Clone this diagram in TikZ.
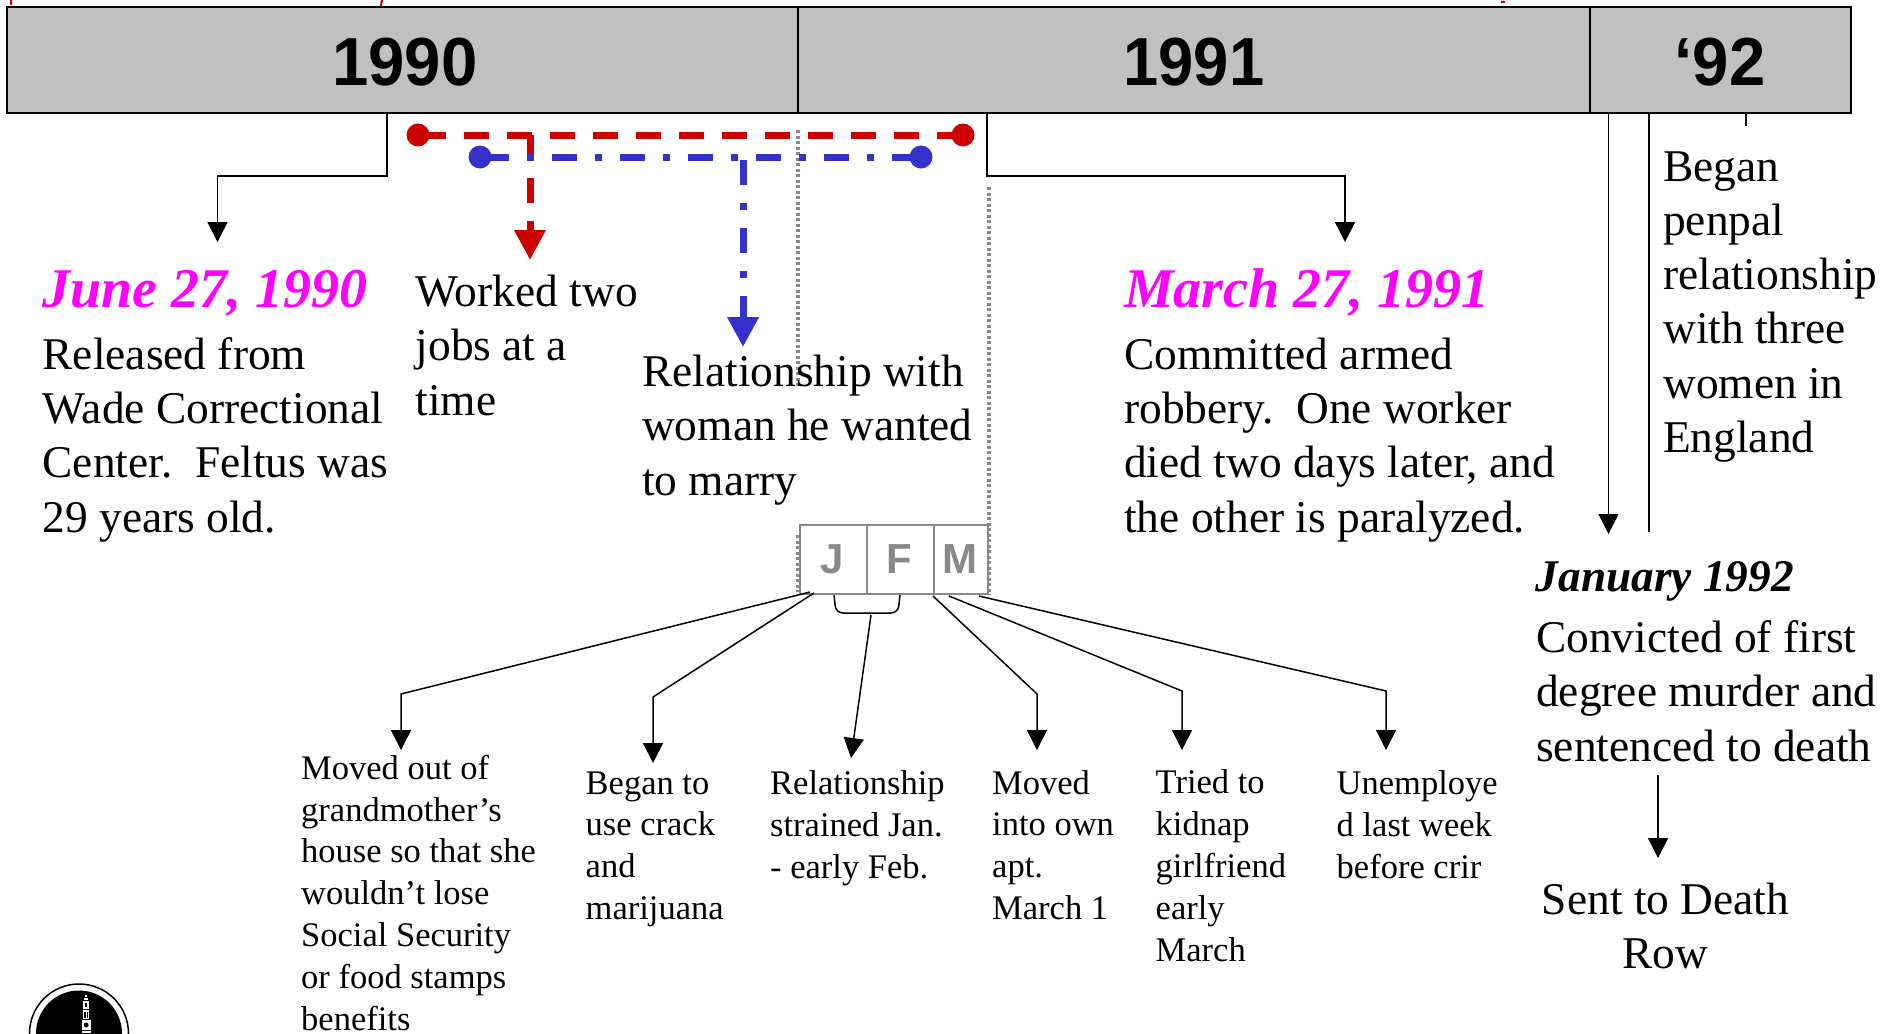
\documentclass[tikz,border=0pt]{standalone}
\usepackage{fontspec}
\setmainfont{Liberation Serif}
\newfontfamily\arialf{Liberation Sans}
\usetikzlibrary{arrows.meta}
\definecolor{hdr}{HTML}{C0C0C0}
\definecolor{redl}{HTML}{CC0000}
\definecolor{bluel}{HTML}{3333CC}
\definecolor{mag}{HTML}{FF00FF}
\definecolor{grayl}{HTML}{888888}
\tikzset{
 yearbox/.style={draw=black,line width=2pt,fill=hdr},
 yeartxt/.style={font=\arialf\bfseries\fontsize{68}{68}\selectfont,inner sep=0pt,anchor=base},
 bigtxt/.style={font=\fontsize{45.4}{54.3}\selectfont,align=left,inner sep=0pt,anchor=base west},
 smalltxt/.style={font=\fontsize{34.5}{41.8}\selectfont,align=left,inner sep=0pt,anchor=base west},
 datetxt/.style={font=\bfseries\itshape\fontsize{56}{56}\selectfont,text=mag,inner sep=0pt,anchor=base west},
 blk/.style={draw=black,line width=1.5pt,-{Triangle[length=20pt,width=20pt]}},
 plainl/.style={draw=black,line width=1.5pt},
 redd/.style={draw=redl,line width=7pt,dash pattern=on 25pt off 18pt,-{Triangle[length=30pt,width=30pt]}},
 bluedd/.style={draw=bluel,line width=7pt,dash pattern=on 25pt off 18pt on 7pt off 18pt,-{Triangle[length=30pt,width=30pt]}},
 grayd/.style={draw=grayl,line width=3.8pt,dash pattern=on 3.4pt off 2.1pt},
 mbox/.style={draw=grayl,line width=2.2pt,fill=white},
 mtxt/.style={font=\arialf\bfseries\fontsize{42}{42}\selectfont,text=grayl,inner sep=0pt,anchor=base},
 dotr/.style={circle,fill=redl,inner sep=0pt,minimum size=23pt},
 dotb/.style={circle,fill=bluel,inner sep=0pt,minimum size=23pt},
}
\begin{document}
\begin{tikzpicture}[x=1pt,y=-1pt]
\useasboundingbox (0,0) rectangle (1881,1033);
\fill[white] (0,0) rectangle (1881,1033);
% red ticks at top edge
\coordinate (t1a) at (11,0); \coordinate (t1b) at (11,5);
\coordinate (t2a) at (382,0); \coordinate (t2b) at (381,6);
\coordinate (t3a) at (1501,2); \coordinate (t3b) at (1505,2);
\draw[redl,line width=2pt] (t1a)--(t1b) (t2a)--(t2b) (t3a)--(t3b);
% header
\node[yearbox,minimum width=791pt,minimum height=105.5pt,inner sep=0pt,anchor=north west] (y90) at (5.5,6) {};
\node[yearbox,minimum width=792.5pt,minimum height=105.5pt,inner sep=0pt,anchor=north west] (y91) at (796.5,6) {};
\node[yearbox,minimum width=260.5pt,minimum height=105.5pt,inner sep=0pt,anchor=north west] (y92) at (1589,6) {};
\node[yeartxt] (l90) at (405,85) {\scalebox{.96}[1]{1990}};
\node[yeartxt] (l91) at (1194,85) {\scalebox{.93}[1]{1991}};
\node[yeartxt] (l92) at (1720,85) {\scalebox{.96}[1]{‘92}};
% gray dotted
\coordinate (g1a) at (798,130); \coordinate (g1b) at (798,386);
\coordinate (g1c) at (798,535); \coordinate (g1d) at (798,592);
\coordinate (g2a) at (989,187); \coordinate (g2b) at (989,595);
\draw[grayd] (g1a)--(g1b);
\draw[grayd] (g1c)--(g1d);
\draw[grayd] (g2a)--(g2b);
% month boxes
\node[mbox,minimum width=67pt,minimum height=69pt,inner sep=0pt,anchor=north west] (mj) at (799,524) {};
\node[mbox,minimum width=66.5pt,minimum height=69pt,inner sep=0pt,anchor=north west] (mf) at (866,524) {};
\node[mbox,minimum width=53.5pt,minimum height=69pt,inner sep=0pt,anchor=north west] (mm) at (933,524) {};
\node[mtxt] (tj) at (832,573) {J};
\node[mtxt] (tf) at (899,573) {F};
\node[mtxt] (tm) at (960,573) {M};
% text
\node[datetxt] (d1) at (42,307) {June 27, 1990};
\node[bigtxt] (t1) at (42.5,532) {Released from\\Wade Correctional\\Center.\ \ Feltus was\\29 years old.};
\node[bigtxt] (t2) at (415.5,415) {Worked two\\jobs at a\\time};
\node[bigtxt] (t3) at (642,495) {Relationship with\\woman he wanted\\to marry};
\node[datetxt] (d2) at (1124,307) {March 27, 1991};
\node[bigtxt] (t4) at (1124,532) {Committed armed\\robbery.\ \ One worker\\died two days later, and\\the other is paralyzed.};
\node[bigtxt] (t5) at (1663,452.5) {Began\\penpal\\relationship\\with three\\women in\\England};
\node[font=\bfseries\itshape\fontsize{45.3}{45.3}\selectfont,inner sep=0pt,anchor=base west] (d3) at (1535.5,591.5) {January 1992};
\node[bigtxt] (t6) at (1536,761) {Convicted of first\\degree murder and\\sentenced to death};
\node[bigtxt,align=center,anchor=base] (t7) at (1665.5,968.5) {Sent to Death\\Row};
\node[smalltxt] (s1) at (301,1030) {Moved out of\\grandmother’s\\house so that she\\wouldn’t lose\\Social Security\\or food stamps\\benefits};
\node[smalltxt] (s2) at (585.5,919.5) {Began to\\use crack\\and\\marijuana};
\node[smalltxt] (s3) at (770,878) {Relationship\\strained Jan.\\- early Feb.};
\node[smalltxt] (s4) at (992,919.5) {Moved\\into own\\apt.\\March 1};
\node[smalltxt] (s5) at (1155.5,961) {Tried to\\kidnap\\girlfriend\\early\\March};
\node[smalltxt] (s6) at (1336.5,878) {Unemploye\\d last week\\before crir};
% connectors from header
\coordinate (c1) at (387,112); \coordinate (c1e) at (217.5,242);
\draw[blk] (c1)--(387,176)--(217.5,176)--(c1e);
\coordinate (c2) at (987,112); \coordinate (c2e) at (1345,242);
\draw[blk] (c2)--(987,176)--(1345,176)--(c2e);
\coordinate (c3) at (1608.5,112); \coordinate (c3e) at (1608.5,534);
\draw[blk] (c3)--(c3e);
\coordinate (c4) at (1649,112); \coordinate (c4e) at (1649,532);
\draw[plainl] (c4)--(c4e);
\coordinate (c5) at (1746,112); \coordinate (c5e) at (1746,126);
\draw[plainl] (c5)--(c5e);
\coordinate (c6) at (1658,775); \coordinate (c6e) at (1658,858);
\draw[blk] (c6)--(c6e);
% red span
\coordinate (r1) at (418,135); \coordinate (r2) at (963,135);
\coordinate (r3) at (530,135); \coordinate (r4) at (530,260);
\draw[redd,-,dash phase=40pt] (r1)--(r2);
\draw[redd] (r3)--(r4);
\node[dotr] (rd1) at (r1) {};
\node[dotr] (rd2) at (r2) {};
% blue span
\coordinate (b1) at (480,157); \coordinate (b2) at (921,157);
\coordinate (b3) at (743,160); \coordinate (b4) at (743,347);
\draw[bluedd,-,dash phase=64pt] (b1)--(b2);
\draw[bluedd] (b3)--(b4);
\node[dotb] (bd1) at (b1) {};
\node[dotb] (bd2) at (b2) {};
% month connectors
\coordinate (m1) at (810,592); \coordinate (m1e) at (401,750);
\draw[blk] (m1)--(401,694)--(m1e);
\coordinate (m2) at (814,593); \coordinate (m2e) at (653,763);
\draw[blk] (m2)--(653,697)--(m2e);
\coordinate (br1) at (834,595); \coordinate (br2) at (900,595);
\draw[plainl,rounded corners=7pt] (br1)--(836,613)--(898,613)--(br2);
\coordinate (m3) at (871,615); \coordinate (m3e) at (851,758);
\draw[blk] (m3)--(m3e);
\coordinate (m4) at (933,596); \coordinate (m4e) at (1037,750);
\draw[blk] (m4)--(1037,694)--(m4e);
\coordinate (m5) at (949,596); \coordinate (m5e) at (1182,750);
\draw[blk] (m5)--(1182,691)--(m5e);
\coordinate (m6) at (979,596); \coordinate (m6e) at (1386,750);
\draw[blk] (m6)--(1386,691)--(m6e);
% logo
\begin{scope}
\clip (0,960) rectangle (200,1033);
\draw[black,line width=1.5pt] (79,1033.5) circle (49.5pt);
\fill[black] (79,1033.5) circle (43pt);
\fill[white] (85,995) rectangle (87,997);
\fill[white] (84,998) rectangle (88,1000);
\fill[white] (83,1001) rectangle (89,1009);
\fill[black] (85,1003) rectangle (87,1007);
\fill[white] (83,1010) rectangle (89,1019);
\fill[black] (84,1012) rectangle (85.5,1018);
\fill[black] (86.5,1012) rectangle (88,1018);
\fill[white] (82,1020) rectangle (90.5,1030);
\fill[black] (86.2,1025) circle (2.5pt);
\fill[white] (82,1031) rectangle (90.5,1033);
\end{scope}
\end{tikzpicture}
\end{document}
